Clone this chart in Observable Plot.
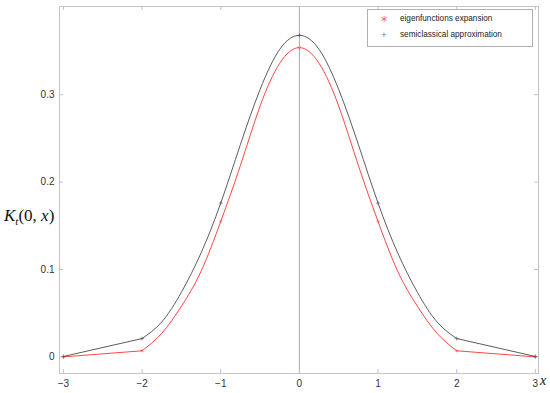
<!DOCTYPE html>
<html><head><meta charset="utf-8">
<script src="https://cdn.jsdelivr.net/npm/d3@7"></script>
<script src="https://cdn.jsdelivr.net/npm/@observablehq/plot@0.6"></script>
<style>
body{margin:0;background:#fff;}
#wrap{position:relative;width:550px;height:393px;overflow:hidden;font-family:"Liberation Sans",Arial,sans-serif;}
#wrap svg{position:absolute;left:0;top:0;}
.ylab{position:absolute;left:4px;top:207px;font-family:"Liberation Serif","Times New Roman",serif;font-size:17px;line-height:17px;color:#111;white-space:nowrap;}
.ylab sub{font-size:11px;vertical-align:-4px;line-height:0;}
.xlab{position:absolute;left:540px;top:374px;font-family:"Liberation Serif","Times New Roman",serif;font-style:italic;font-size:14px;line-height:14px;color:#111;}
.legend{position:absolute;left:367px;top:9px;width:164px;height:36px;border:1px solid #b0b0b0;background:#fff;font-size:8.2px;color:#222;}
.legend .row{position:absolute;left:0;height:10px;line-height:10px;white-space:nowrap;}
.legend .sym{position:absolute;left:12px;width:8px;text-align:center;}
.legend .txt{position:absolute;left:32px;}
</style></head><body><div id="wrap"></div>
<script>
// data
const xs = [-3, -2, -1.75, -1.5, -1.25, -1, -0.75, -0.5, -0.25, 0, 0.25, 0.5, 0.75, 1, 1.25, 1.5, 1.75, 2, 3];
const eigen = [0.000, 0.007, 0.027, 0.058, 0.098, 0.155, 0.219, 0.287, 0.336, 0.354, 0.336, 0.287, 0.219, 0.155, 0.098, 0.058, 0.027, 0.007, 0.000];
const semi = [0.0005, 0.021, 0.040, 0.074, 0.119, 0.176, 0.243, 0.306, 0.352, 0.368, 0.352, 0.306, 0.243, 0.176, 0.119, 0.074, 0.040, 0.021, 0.0005];
const seriesNames = ["eigenfunctions expansion", "semiclassical approximation"];
const xTicks = [-3, -2, -1, 0, 1, 2, 3];
const yTicks = [0, 0.1, 0.2, 0.3];

const W = 550, H = 393, mL = 59, mR = 12, mT = 6, mB = 20;
const plotW = W - mL - mR, plotH = H - mT - mB;

const rows = [];
xs.forEach((x, i) => {
  rows.push({x, y: eigen[i], s: seriesNames[0]});
  rows.push({x, y: semi[i], s: seriesNames[1]});
});
const inner = rows.filter(d => Math.abs(d.x) <= 2);
const outer = [];
rows.forEach(d => {
  if (d.x <= -2) outer.push({...d, g: "L" + d.s});
  if (d.x >= 2) outer.push({...d, g: "R" + d.s});
});
const markers = rows.filter(d => Number.isInteger(d.x));
const col = {[seriesNames[0]]: "#ff3030", [seriesNames[1]]: "#4a4a4a"};

const chart = Plot.plot({
  width: W, height: H,
  marginLeft: mL, marginRight: mR, marginTop: mT, marginBottom: mB,
  x: {domain: [-3.05, 3.04]},
  y: {domain: [-0.019, 0.401]},
  style: {fontFamily: "'Liberation Sans', Arial, sans-serif", fontSize: "10px", color: "#333", background: "transparent"},
  marks: [
    Plot.frame({stroke: "#c4c4c4"}),
    Plot.ruleX([0], {stroke: "#a8a8a8", strokeWidth: 1}),
    Plot.tickX(xTicks, {x: d => d, stroke: "#c4c4c4", insetTop: plotH - 4}),
    Plot.tickX(xTicks, {x: d => d, stroke: "#c4c4c4", insetBottom: plotH - 4}),
    Plot.tickY(yTicks, {y: d => d, stroke: "#c4c4c4", insetRight: plotW - 4}),
    Plot.tickY(yTicks, {y: d => d, stroke: "#c4c4c4", insetLeft: plotW - 4}),
    Plot.axisX(xTicks, {tickSize: 0, tickPadding: 6, label: null, fontSize: 10}),
    Plot.axisY(yTicks, {tickSize: 0, tickPadding: 5, label: null, fontSize: 10, tickFormat: d => d === 0 ? "0" : String(d)}),
    Plot.line(outer, {x: "x", y: "y", z: "g", stroke: d => col[d.s], strokeWidth: 0.9}),
    Plot.line(inner, {x: "x", y: "y", z: "s", stroke: d => col[d.s], strokeWidth: 0.9, curve: "natural"}),
    Plot.dot(markers.filter(d => d.s === seriesNames[0]), {x: "x", y: "y", symbol: "asterisk", r: 1.6, stroke: "#ff5050", strokeWidth: 0.7, strokeOpacity: 0.7}),
    Plot.dot(markers.filter(d => d.s === seriesNames[1]), {x: "x", y: "y", symbol: "plus", r: 1.5, stroke: "#444", strokeWidth: 0.7, strokeOpacity: 0.7})
  ]
});
const wrap = document.getElementById("wrap");
wrap.appendChild(chart);

const ylab = document.createElement("div");
ylab.className = "ylab";
ylab.innerHTML = "<i>K</i><sub><i>t</i></sub>(0, <i>x</i>)";
wrap.appendChild(ylab);
const xlab = document.createElement("div");
xlab.className = "xlab";
xlab.textContent = "x";
wrap.appendChild(xlab);

const leg = document.createElement("div");
leg.className = "legend";
const syms = [{t: "∗", c: "#ff7070", top: 4}, {t: "+", c: "#777", top: 20}];
seriesNames.forEach((name, i) => {
  const r = document.createElement("div");
  r.className = "row";
  r.style.top = syms[i].top + "px";
  r.innerHTML = `<span class="sym" style="color:${syms[i].c};font-size:${i===0?10:9}px">${syms[i].t}</span><span class="txt">${name}</span>`;
  leg.appendChild(r);
});
wrap.appendChild(leg);
</script></body></html>
